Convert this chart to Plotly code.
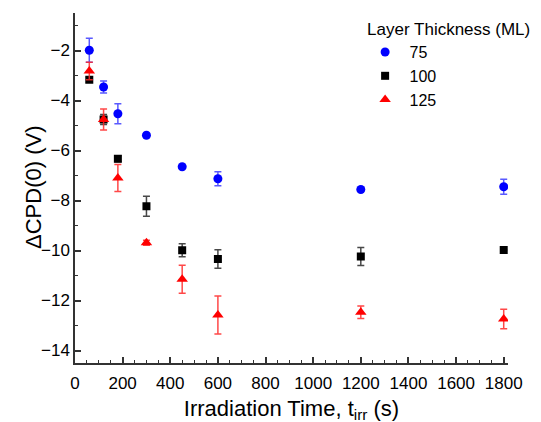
import plotly.graph_objects as go

time_s = [60, 120, 180, 300, 450, 600, 1200, 1800]

ml75 = [-1.99, -3.46, -4.53, -5.39, -6.65, -7.13, -7.56, -7.45]
ml75_err = [0.48, 0.24, 0.40, 0.0, 0.0, 0.28, 0.0, 0.30]

ml100 = [-3.17, -4.76, -6.33, -8.23, -9.99, -10.34, -10.24, -9.98]
ml100_err = [0.10, 0.20, 0.12, 0.40, 0.26, 0.37, 0.36, 0.0]

ml125 = [-2.82, -4.76, -7.10, -9.69, -11.15, -12.58, -12.47, -12.74]
ml125_err = [0.35, 0.42, 0.54, 0.10, 0.56, 0.76, 0.25, 0.39]

series = [
    ("75", ml75, ml75_err, "blue", "circle", 9, "rgba(60,60,255,0.85)"),
    ("100", ml100, ml100_err, "black", "square", 8, "rgba(40,40,40,0.85)"),
    ("125", ml125, ml125_err, "red", "triangle-up", 10, "rgba(255,40,40,0.85)"),
]

fig = go.Figure()
for name, vals, errs, col, sym, sz, ecol in series:
    fig.add_trace(go.Scatter(
        x=time_s, y=vals, name="\u00a0" + name, mode="markers",
        marker=dict(color=col, symbol=sym, size=sz, line=dict(width=0)),
        error_y=dict(type="data", array=errs, visible=True, color=ecol,
                     thickness=1.5, width=3.5),
    ))

font_family = "Liberation Sans, Arial, sans-serif"
# the page body has an 8px margin, so margins are reduced by 8 on left/top
fig.update_layout(
    width=541, height=422,
    margin=dict(l=67, r=41, t=5, b=67),
    paper_bgcolor="white", plot_bgcolor="white",
    font=dict(family=font_family, color="black", size=17),
    showlegend=True,
    legend=dict(
        title=dict(text="Layer Thickness (ML)", font=dict(size=17)),
        x=0.67, xanchor="left", y=1.0, yanchor="top",
        font=dict(size=16), bgcolor="rgba(0,0,0,0)",
        tracegroupgap=0, itemsizing="trace",
    ),
    xaxis=dict(
        range=[0, 1818], tickvals=[0, 200, 400, 600, 800, 1000, 1200, 1400, 1600, 1800],
        showgrid=False, zeroline=False,
        showline=True, linecolor="#333", linewidth=1.5,
        ticks="inside", ticklen=6, tickwidth=1.5, tickcolor="#333",
        tickfont=dict(size=17), ticklabelstandoff=4,
        minor=dict(dtick=50, tick0=0, ticks="inside", ticklen=3, tickwidth=1, tickcolor="#333"),
        title=dict(text="Irradiation Time, t<sub>irr</sub> (s)", font=dict(size=22), standoff=8),
    ),
    yaxis=dict(
        range=[-14.5, -0.5], tickvals=[-14, -12, -10, -8, -6, -4, -2],
        showgrid=False, zeroline=False,
        showline=True, linecolor="#333", linewidth=1.5,
        ticks="inside", ticklen=6, tickwidth=1.5, tickcolor="#333",
        tickfont=dict(size=17),
        minor=dict(dtick=1, tick0=-1, ticks="inside", ticklen=3, tickwidth=1, tickcolor="#333"),
    ),
    annotations=[dict(
        text="ΔCPD(0) (V)", textangle=-90, xref="paper", yref="paper",
        x=0, y=0.5, xanchor="center", yanchor="middle", showarrow=False,
        font=dict(size=22), xshift=-42,
    )],
)

fig.write_html("out.html")
